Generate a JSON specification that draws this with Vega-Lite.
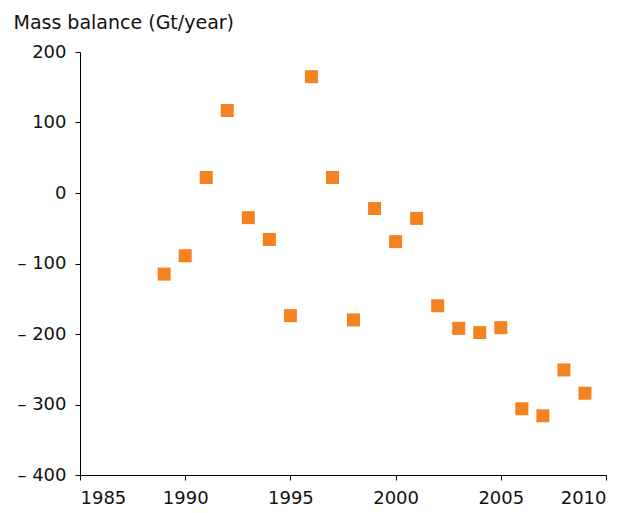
{
  "$schema": "https://vega.github.io/schema/vega-lite/v6.json",
  "width": 526,
  "height": 423,
  "autosize": {"type": "none"},
  "padding": {"left": 80, "top": 52, "right": 32, "bottom": 38},
  "background": "white",
  "config": {"view": {"stroke": null}, "font": "DejaVu Sans"},
  "data": {
    "values": [
      {"year": 1989, "mb": -115},
      {"year": 1990, "mb": -89},
      {"year": 1991, "mb": 22},
      {"year": 1992, "mb": 117},
      {"year": 1993, "mb": -35},
      {"year": 1994, "mb": -66},
      {"year": 1995, "mb": -174},
      {"year": 1996, "mb": 165},
      {"year": 1997, "mb": 22},
      {"year": 1998, "mb": -180},
      {"year": 1999, "mb": -22},
      {"year": 2000, "mb": -69},
      {"year": 2001, "mb": -36},
      {"year": 2002, "mb": -160},
      {"year": 2003, "mb": -192},
      {"year": 2004, "mb": -198},
      {"year": 2005, "mb": -191},
      {"year": 2006, "mb": -306},
      {"year": 2007, "mb": -316},
      {"year": 2008, "mb": -251},
      {"year": 2009, "mb": -284}
    ]
  },
  "mark": {"type": "square", "size": 169, "color": "#F58220", "opacity": 1, "filled": true},
  "encoding": {
    "x": {
      "field": "year", "type": "quantitative",
      "scale": {"domain": [1985, 2010], "nice": false, "zero": false},
      "axis": {
        "values": [1985, 1990, 1995, 2000, 2005, 2010], "format": "d",
        "grid": false, "title": null, "domainColor": "black", "tickColor": "black",
        "tickSize": 5, "labelFontSize": 18, "labelColor": "#111", "labelPadding": 9,
        "labelFont": "DejaVu Sans"
      }
    },
    "y": {
      "field": "mb", "type": "quantitative",
      "scale": {"domain": [-400, 200], "nice": false, "zero": false},
      "axis": {
        "values": [-400, -300, -200, -100, 0, 100, 200],
        "labelExpr": "datum.value < 0 ? '– ' + abs(datum.value) : datum.label",
        "grid": false, "title": "Mass balance (Gt/year)", "titleAngle": 0,
        "titleAlign": "left", "titleBaseline": "alphabetic", "titleX": -67, "titleY": -24,
        "titleFontSize": 19, "titleFontWeight": "normal", "titleColor": "#111", "titleFont": "DejaVu Sans",
        "domainColor": "black", "tickColor": "black", "tickSize": 5,
        "labelFontSize": 18, "labelColor": "#111", "labelPadding": 9, "labelFont": "DejaVu Sans"
      }
    }
  }
}
